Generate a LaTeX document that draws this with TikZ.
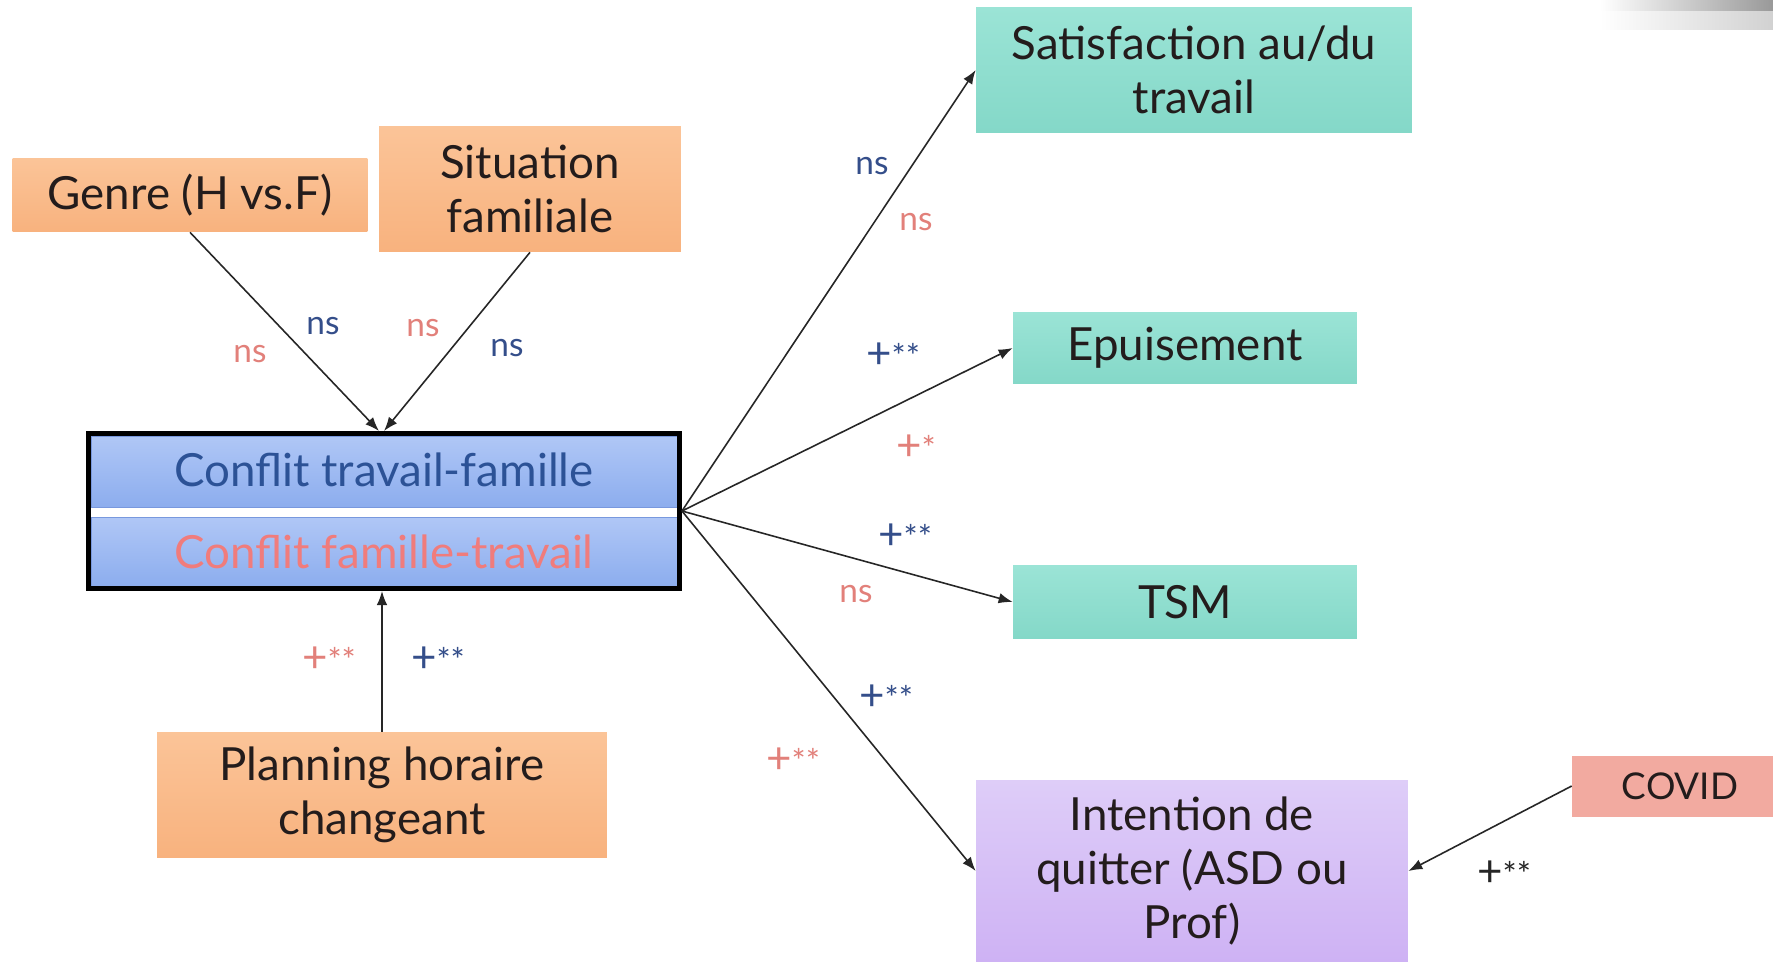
\documentclass[tikz,border=0pt]{standalone}
\usepackage{fontspec}
\setmainfont{Lato}
\usetikzlibrary{arrows.meta}
\definecolor{orangeA}{RGB}{251,196,152}
\definecolor{orangeB}{RGB}{248,178,126}
\definecolor{tealA}{RGB}{155,228,214}
\definecolor{tealB}{RGB}{132,216,200}
\definecolor{lavA}{RGB}{222,205,248}
\definecolor{lavB}{RGB}{206,178,244}
\definecolor{covidC}{RGB}{242,170,160}
\definecolor{confA}{RGB}{176,199,246}
\definecolor{confB}{RGB}{140,173,238}
\definecolor{confLine}{RGB}{120,152,222}
\definecolor{lblue}{RGB}{52,78,138}
\definecolor{lred}{RGB}{226,128,122}
\definecolor{tblue}{RGB}{44,82,150}
\definecolor{tred}{RGB}{240,124,124}
\definecolor{boxtext}{RGB}{35,28,28}
\newcommand\plusstars[1]{{\fontsize{25}{28}\selectfont+}#1}
\tikzset{
  basebox/.style={rectangle, inner sep=0pt, align=center, text=boxtext,
    font=\fontsize{26}{31}\selectfont},
  orangebox/.style={basebox, top color=orangeA, bottom color=orangeB},
  tealbox/.style={basebox, top color=tealA, bottom color=tealB},
  lavbox/.style={basebox, top color=lavA, bottom color=lavB},
  covidbox/.style={basebox, fill=covidC, font=\fontsize{21}{25}\selectfont},
  halfbox/.style={rectangle, inner sep=0pt, top color=confA, bottom color=confB,
    draw=confLine, line width=0.4pt, font=\fontsize{26}{31}\selectfont},
  conn/.style={-{Latex[length=8pt,width=6pt]}, line width=0.9pt, black!85},
  lb/.style={inner sep=0pt, text=lblue, font=\fontsize{19}{22}\selectfont},
  lr/.style={inner sep=0pt, text=lred, font=\fontsize{19}{22}\selectfont},
  lk/.style={inner sep=0pt, text=black!85, font=\fontsize{19}{22}\selectfont},
}
\begin{document}
\begin{tikzpicture}[x=0.02cm, y=-0.02cm]
\useasboundingbox (0,0) rectangle (1773,962);
\fill[white] (0,0) rectangle (1773,962);
% grey blur top right
\shade[left color=white, right color=black!40] (1600,0) rectangle (1773,12);
\shade[left color=white, right color=black!18] (1600,12) rectangle (1773,30);

% nodes
\node[orangebox, minimum width=7.1cm, minimum height=1.48cm] (genre) at (190,195) {Genre (H vs.F)};
\node[orangebox, minimum width=6.04cm, minimum height=2.52cm] (situ) at (530,189) {Situation\\familiale};
\node[orangebox, minimum width=9.0cm, minimum height=2.52cm] (plan) at (382,795) {Planning horaire\\changeant};

\node[halfbox, minimum width=11.72cm, minimum height=1.42cm, text=tblue] (ctop) at (384,471.5) {\raisebox{2pt}{Conflit travail-famille}};
\node[halfbox, minimum width=11.72cm, minimum height=1.38cm, text=tred] (cbot) at (384,551.5) {Conflit famille-travail};
\node[rectangle, draw=black, line width=0.1cm, minimum width=11.82cm, minimum height=3.1cm, inner sep=0pt] (conf) at (384,511) {};

\node[tealbox, minimum width=8.72cm, minimum height=2.5cm] (satis) at (1194,70) {Satisfaction au/du\\travail};
\node[tealbox, minimum width=6.88cm, minimum height=1.44cm] (epuis) at (1185,348) {Epuisement};
\node[tealbox, minimum width=6.88cm, minimum height=1.46cm] (tsm) at (1185,602) {TSM};
\node[lavbox, minimum width=8.64cm, minimum height=3.64cm] (inten) at (1192,871) {Intention de\\quitter (ASD ou\\Prof)};
\node[covidbox, minimum width=4.32cm, minimum height=1.22cm] (covid) at (1680,786) {COVID};

% connectors
\draw[conn] (genre.south) -- ([xshift=-0.1cm]conf.north);
\draw[conn] (situ.south) -- (conf.north);
\draw[conn] (plan.north) -- (conf.south -| plan.north);
\draw[conn] (conf.east) -- (satis.west);
\draw[conn] (conf.east) -- (epuis.west);
\draw[conn] (conf.east) -- (tsm.west);
\draw[conn] (conf.east) -- (inten.west);
\draw[conn] (covid.west) -- (inten.east);

% labels
\node[lr] (l1) at (250,354) {ns};
\node[lb] (l2) at (323,326) {ns};
\node[lr] (l3) at (423,328) {ns};
\node[lb] (l4) at (507,348) {ns};
\node[lr] (l5) at (329,660) {\plusstars{**}};
\node[lb] (l6) at (438,660) {\plusstars{**}};
\node[lb] (l7) at (872,166) {ns};
\node[lr] (l8) at (916,222) {ns};
\node[lb] (l9) at (893,356) {\plusstars{**}};
\node[lr] (l10) at (916,448) {\plusstars{*}};
\node[lb] (l11) at (905,537) {\plusstars{**}};
\node[lr] (l12) at (856,594) {ns};
\node[lb] (l13) at (886,698) {\plusstars{**}};
\node[lr] (l14) at (793,761) {\plusstars{**}};
\node[lk] (l15) at (1504,874) {\plusstars{**}};
\end{tikzpicture}
\end{document}
